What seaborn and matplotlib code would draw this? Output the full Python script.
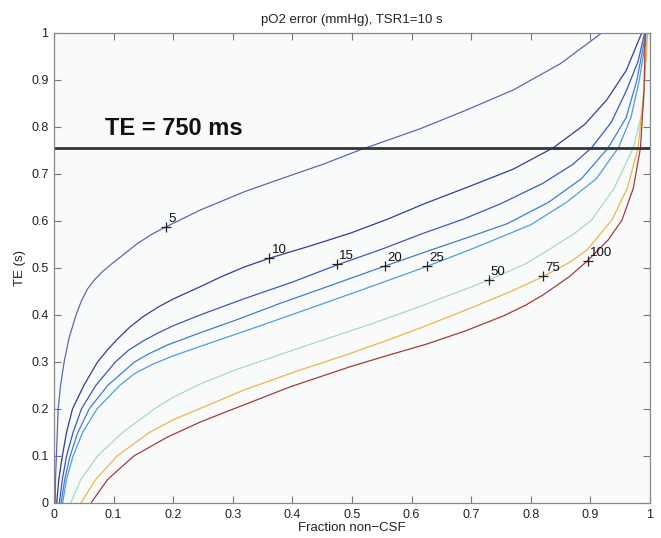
"""
pO2 error contours vs TE and fraction non-CSF
"""

import pandas as pd
import seaborn as sns
import matplotlib.pyplot as plt
from matplotlib.ticker import FuncFormatter

# contour levels (mmHg)
levels = ["5", "10", "15", "20", "25", "50", "75", "100"]

frac_5 = [0.002, 0.0025, 0.004, 0.0055, 0.007, 0.011, 0.017, 0.025, 0.037, 0.046, 0.056,
          0.068, 0.082, 0.1, 0.12, 0.14, 0.163, 0.187, 0.245, 0.319, 0.379, 0.45, 0.513,
          0.614, 0.69, 0.771, 0.85, 0.919]
te_5 = [0.0, 0.05, 0.1, 0.15, 0.2, 0.25, 0.3, 0.35, 0.4, 0.43, 0.455,
        0.475, 0.493, 0.512, 0.532, 0.552, 0.571, 0.587, 0.623, 0.662, 0.689, 0.72, 0.751,
        0.796, 0.835, 0.879, 0.935, 1.0]

frac_10 = [0.0045, 0.008, 0.014, 0.021, 0.031, 0.05, 0.073, 0.09, 0.105, 0.127, 0.15, 0.175,
           0.2, 0.245, 0.28, 0.319, 0.362, 0.43, 0.497, 0.56, 0.62, 0.7, 0.77, 0.838,
           0.89, 0.927, 0.96, 0.986]
te_10 = [0.0, 0.05, 0.1, 0.15, 0.2, 0.25, 0.3, 0.326, 0.347, 0.374, 0.397, 0.417,
         0.434, 0.46, 0.481, 0.502, 0.521, 0.547, 0.574, 0.604, 0.636, 0.675, 0.71, 0.756,
         0.805, 0.857, 0.92, 1.0]

frac_15 = [0.009, 0.014, 0.021, 0.032, 0.046, 0.07, 0.103, 0.125, 0.15, 0.175, 0.2, 0.245,
           0.32, 0.4, 0.474, 0.55, 0.62, 0.687, 0.75, 0.82, 0.87, 0.902, 0.935, 0.961,
           0.98, 0.991]
te_15 = [0.0, 0.05, 0.1, 0.15, 0.2, 0.25, 0.3, 0.325, 0.345, 0.362, 0.377, 0.4,
         0.435, 0.47, 0.506, 0.54, 0.574, 0.604, 0.637, 0.68, 0.72, 0.756, 0.81, 0.879,
         0.94, 1.0]

frac_20 = [0.012, 0.018, 0.027, 0.04, 0.059, 0.09, 0.135, 0.16, 0.19, 0.245, 0.307, 0.38,
           0.46, 0.553, 0.625, 0.69, 0.76, 0.83, 0.885, 0.93, 0.96, 0.978, 0.993]
te_20 = [0.0, 0.05, 0.1, 0.15, 0.2, 0.25, 0.3, 0.318, 0.336, 0.362, 0.39, 0.425,
         0.461, 0.503, 0.535, 0.563, 0.594, 0.64, 0.69, 0.756, 0.82, 0.9, 1.0]

frac_25 = [0.0145, 0.021, 0.032, 0.048, 0.072, 0.11, 0.135, 0.165, 0.2, 0.245, 0.33, 0.42,
           0.52, 0.625, 0.71, 0.8, 0.86, 0.91, 0.947, 0.968, 0.982, 0.995]
te_25 = [0.0, 0.05, 0.1, 0.15, 0.2, 0.25, 0.275, 0.295, 0.313, 0.333, 0.37, 0.41,
         0.455, 0.503, 0.545, 0.592, 0.64, 0.69, 0.756, 0.82, 0.9, 1.0]

frac_50 = [0.028, 0.045, 0.073, 0.115, 0.168, 0.2, 0.245, 0.306, 0.38, 0.452, 0.53, 0.614,
           0.729, 0.79, 0.838, 0.875, 0.902, 0.94, 0.972, 0.989, 0.995]
te_50 = [0.0, 0.05, 0.1, 0.15, 0.2, 0.225, 0.253, 0.284, 0.316, 0.347, 0.38, 0.418,
         0.474, 0.508, 0.545, 0.575, 0.602, 0.67, 0.756, 0.843, 1.0]

frac_75 = [0.045, 0.07, 0.106, 0.16, 0.2, 0.245, 0.318, 0.413, 0.49, 0.561, 0.614, 0.7,
           0.77, 0.821, 0.865, 0.894, 0.936, 0.962, 0.98, 0.99, 0.996]
te_75 = [0.0, 0.05, 0.1, 0.15, 0.177, 0.201, 0.24, 0.283, 0.315, 0.347, 0.372, 0.415,
         0.452, 0.482, 0.512, 0.538, 0.602, 0.67, 0.756, 0.88, 1.0]

frac_100 = [0.062, 0.09, 0.134, 0.19, 0.245, 0.295, 0.396, 0.497, 0.56, 0.625, 0.69, 0.754,
            0.79, 0.821, 0.865, 0.894, 0.93, 0.953, 0.972, 0.984, 0.99, 0.992]
te_100 = [0.0, 0.05, 0.1, 0.14, 0.172, 0.197, 0.247, 0.29, 0.314, 0.338, 0.366, 0.398,
          0.42, 0.443, 0.482, 0.514, 0.56, 0.602, 0.67, 0.756, 0.88, 1.0]

# contour label positions
label_frac = [0.188, 0.361, 0.474, 0.555, 0.625, 0.729, 0.821, 0.896]
label_te = [0.587, 0.521, 0.508, 0.504, 0.505, 0.474, 0.483, 0.515]

te_chosen = 0.755

line_colors = {
    "5": "#5b68b8", "10": "#2e3d9c", "15": "#3a58bd", "20": "#3f7ccf",
    "25": "#4e9ddf", "50": "#a6dac6", "75": "#eeb548", "100": "#a43a3a",
}


def main():
    sns.set_style("ticks")
    plt.rcParams["font.family"] = ["Liberation Sans", "DejaVu Sans"]

    fracs = [frac_5, frac_10, frac_15, frac_20, frac_25, frac_50, frac_75, frac_100]
    tes = [te_5, te_10, te_15, te_20, te_25, te_50, te_75, te_100]
    frames = []
    for lev, fr, te in zip(levels, fracs, tes):
        frames.append(pd.DataFrame({"frac": fr, "te": te, "level": lev}))
    df = pd.concat(frames, ignore_index=True)
    labels_df = pd.DataFrame({"frac": label_frac, "te": label_te, "level": levels})

    fig = plt.figure(figsize=(6.61, 5.38), dpi=100)
    ax = fig.add_axes([0.0817, 0.0651, 0.9017, 0.8736])
    ax.set_facecolor("#f9fbfb")

    sns.lineplot(data=df, x="frac", y="te", hue="level", palette=line_colors,
                 sort=False, estimator=None, legend=False, lw=0.9, ax=ax)
    sns.scatterplot(data=labels_df, x="frac", y="te", marker="+", color="#222222",
                    s=45, linewidth=0.9, legend=False, ax=ax, zorder=5)
    for _, row in labels_df.iterrows():
        ax.text(row["frac"] + 0.004, row["te"] + 0.004, row["level"],
                fontsize=9.5, color="#111111", ha="left", va="bottom")

    ax.axhline(te_chosen, color="#333333", lw=2)
    ax.text(0.086, 0.772, "TE = 750 ms", fontsize=17, fontweight="bold",
            color="#111111", ha="left", va="bottom")

    ax.set_xlim(0, 1)
    ax.set_ylim(0, 1)
    ticks = [i / 10 for i in range(11)]
    ax.set_xticks(ticks)
    ax.set_yticks(ticks)
    fmt = FuncFormatter(lambda v, p: f"{v:g}")
    ax.xaxis.set_major_formatter(fmt)
    ax.yaxis.set_major_formatter(fmt)
    ax.tick_params(direction="in", top=True, right=True, length=5, width=0.8,
                   color="#777777", labelsize=9, labelcolor="#222222", pad=4)
    for sp in ax.spines.values():
        sp.set_color("#888888")
        sp.set_linewidth(0.9)

    ax.set_xlabel("Fraction non\u2212CSF", fontsize=9.5, color="#222222", labelpad=1)
    ax.set_ylabel("TE (s)", fontsize=9.5, color="#222222", labelpad=4)
    ax.set_title("pO2 error (mmHg), TSR1=10 s", fontsize=9.5, color="#222222", pad=7)

    fig.savefig("out.png", dpi=100)


if __name__ == "__main__":
    main()
